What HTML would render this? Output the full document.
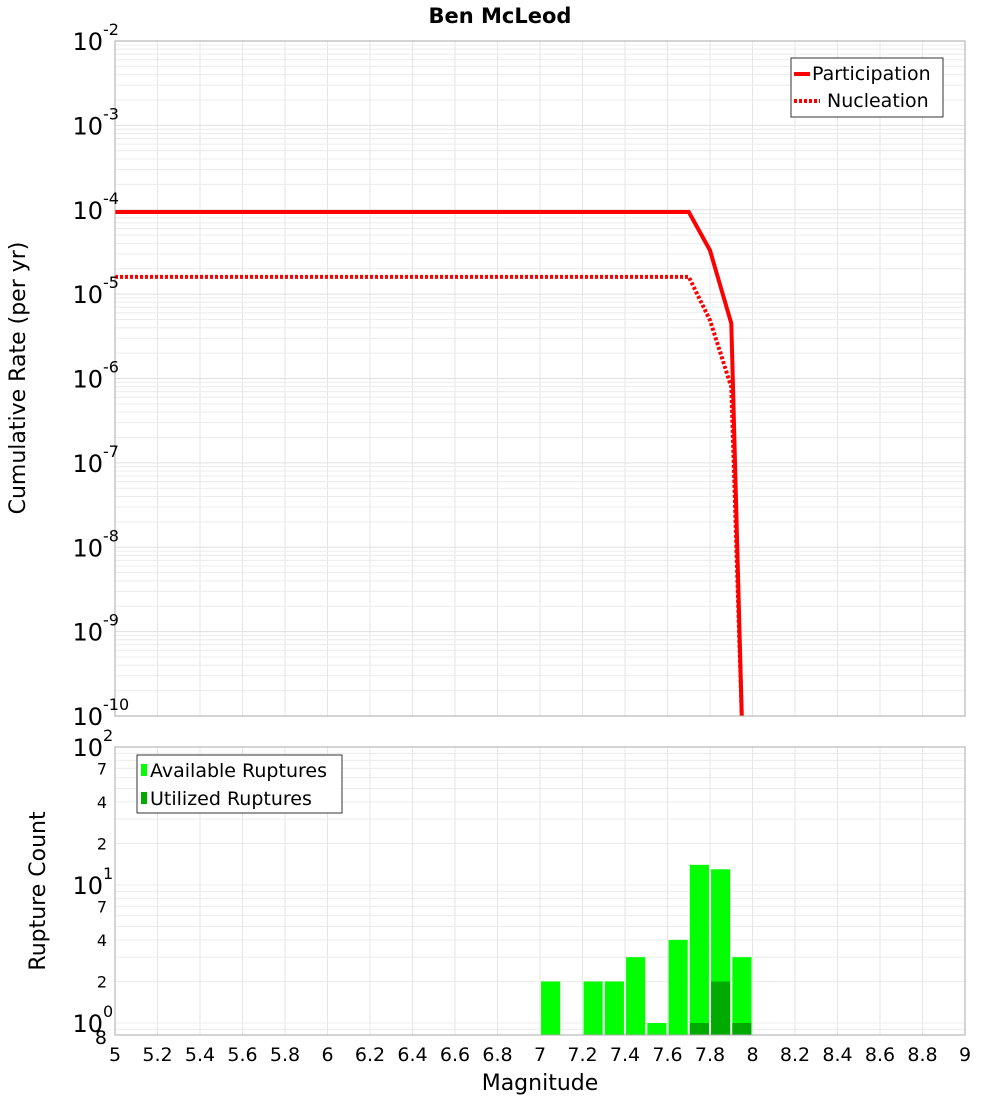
<!DOCTYPE html>
<html><head><meta charset="utf-8"><style>body{margin:0;background:#fff}svg{display:block;font-family:"DejaVu Sans","Liberation Sans",sans-serif}</style></head>
<body>
<svg id="c" width="1000" height="1100" xmlns="http://www.w3.org/2000/svg">
<text x="500" y="23" text-anchor="middle" font-size="21" font-weight="bold">Ben McLeod</text>
<g id="topPlot"></g>
<g id="botPlot"></g>
<text transform="translate(25,378) rotate(-90)" text-anchor="middle" font-size="22">Cumulative Rate (per yr)</text>
<text transform="translate(45,891) rotate(-90)" text-anchor="middle" font-size="22">Rupture Count</text>
<text x="540" y="1090" text-anchor="middle" font-size="22">Magnitude</text>
<g>
<rect x="791" y="58" width="152" height="59" fill="#fff" stroke="#333"/>
<line x1="794" y1="74" x2="810" y2="74" stroke="red" stroke-width="4"/>
<text x="812" y="80" font-size="19">Participation</text>
<line x1="794" y1="101" x2="820" y2="101" stroke="red" stroke-width="4" stroke-dasharray="3,2"/>
<text x="827" y="107" font-size="19">Nucleation</text>
</g>
<g>
<rect x="137" y="755" width="205" height="58" fill="#fff" stroke="#333"/>
<rect x="141" y="764" width="6" height="12" fill="#00ff00"/>
<text x="150" y="777" font-size="19">Available Ruptures</text>
<rect x="141" y="792" width="6" height="12" fill="#00aa00"/>
<text x="150" y="805" font-size="19">Utilized Ruptures</text>
</g>
</svg>
<script>
const partMags=[5,7.7,7.8,7.9,7.95];
const partRates=[9.4e-5,9.4e-5,3.3e-5,4.5e-6,1e-11];
const nuclMags=[5,7.7,7.8,7.9,7.95];
const nuclRates=[1.6e-5,1.6e-5,4.9e-6,7.9e-7,1e-11];
const binMags=[7.05,7.25,7.35,7.45,7.55,7.65,7.75,7.85,7.95];
const availCounts=[2,2,2,3,1,4,14,13,3];
const utilCounts=[0,0,0,0,0,0,1,2,1];
const xTicks=["5","5.2","5.4","5.6","5.8","6","6.2","6.4","6.6","6.8","7","7.2","7.4","7.6","7.8","8","8.2","8.4","8.6","8.8","9"];
const topExps=[-2,-3,-4,-5,-6,-7,-8,-9,-10];
const botMinor=[2,4,7,20,40,70];

const NS="http://www.w3.org/2000/svg";
const L=115,R=965,T1=41,B1=716,T2=747,B2=1035;
const xs=m=>L+(m-5)/4*(R-L);
const y1=v=>T1+(-2-Math.log10(v))*(B1-T1)/8;
const y2=v=>T2+(2-Math.log10(v))*138;
function mk(p,t,a){const e=document.createElementNS(NS,t);for(const k in a)e.setAttribute(k,a[k]);p.appendChild(e);return e;}
const gTop=document.getElementById('topPlot'),gBot=document.getElementById('botPlot');
[[gTop,T1,B1],[gBot,T2,B2]].forEach(([g,t,b])=>{
 for(let i=0;i<=20;i++){const x=xs(5+i*0.2);const l=mk(g,'line',{x1:x,x2:x,y1:t,y2:b,stroke:'#e6e6e6'});
 
 }
});
for(let d=-10;d<-2;d++)for(let k=1;k<10;k++){const y=y1(k*Math.pow(10,d));const l=mk(gTop,'line',{x1:L,x2:R,y1:y,y2:y,stroke:k==1?'#e0e0e0':'#ececec'});
 
 }
for(let d=-1;d<2;d++)for(let k=1;k<10;k++){const y=y2(k*Math.pow(10,d));if(y>B2||y<T2)continue;const l=mk(gBot,'line',{x1:L,x2:R,y1:y,y2:y,stroke:'#ececec'});
 
 }
function path(ms,vs){return ms.map((m,i)=>(i?'L':'M')+xs(m).toFixed(1)+','+Math.min(y1(vs[i]),B1+5).toFixed(1)).join('');}
const cp=mk(gTop,'clipPath',{id:'cp'});mk(cp,'rect',{x:L,y:T1,width:R-L,height:B1-T1});
const p1=mk(gTop,'path',{d:path(partMags,partRates),fill:'none',stroke:'red','stroke-width':4,'clip-path':'url(#cp)'});


const p2=mk(gTop,'path',{d:path(nuclMags,nuclRates),fill:'none',stroke:'red','stroke-width':4,'stroke-dasharray':'3,2','clip-path':'url(#cp)'});


const bw=xs(5.09)-xs(5);
binMags.forEach((m,i)=>{
 const x=xs(m)-bw/2;
 if(availCounts[i]>0){const y=y2(availCounts[i]);const r=mk(gBot,'rect',{x:x,y:y,width:bw,height:B2-y,fill:'#00ff00'});
 
 }
 if(utilCounts[i]>0){const y=y2(utilCounts[i]);const r=mk(gBot,'rect',{x:x,y:y,width:bw,height:B2-y,fill:'#00aa00'});
 
 }
});
mk(gTop,'rect',{x:L,y:T1,width:R-L,height:B1-T1,fill:'none',stroke:'#aaa'});
mk(gBot,'rect',{x:L,y:T2,width:R-L,height:B2-T2,fill:'none',stroke:'#aaa'});
xTicks.forEach((s,i)=>{const t=mk(gBot,'text',{x:xs(+s),y:1061,'text-anchor':'middle','font-size':19});t.textContent=s;
 
 });
topExps.forEach(e=>{const y=y1(Math.pow(10,e));const t=mk(gTop,'text',{x:103,y:y+9,'text-anchor':'end','font-size':24});t.textContent='10';
 
 
 const s=mk(gTop,'text',{x:103,y:y-6,'font-size':16});s.textContent=String(e);
 
 });
[[100,'2'],[10,'1'],[1,'0']].forEach(([v,e])=>{const y=y2(v);const t=mk(gBot,'text',{x:103,y:y+9,'text-anchor':'end','font-size':24});t.textContent='10';
 
 
 const s=mk(gBot,'text',{x:103,y:y-6,'font-size':16});s.textContent=e;
 
 });
botMinor.forEach(v=>{const t=mk(gBot,'text',{x:107,y:y2(v)+6,'text-anchor':'end','font-size':16});t.textContent=String(v).charAt(0);
 
 });
const e8=mk(gBot,'text',{x:107,y:1044,'text-anchor':'end','font-size':19});e8.textContent='8';


</script>
</body></html>
